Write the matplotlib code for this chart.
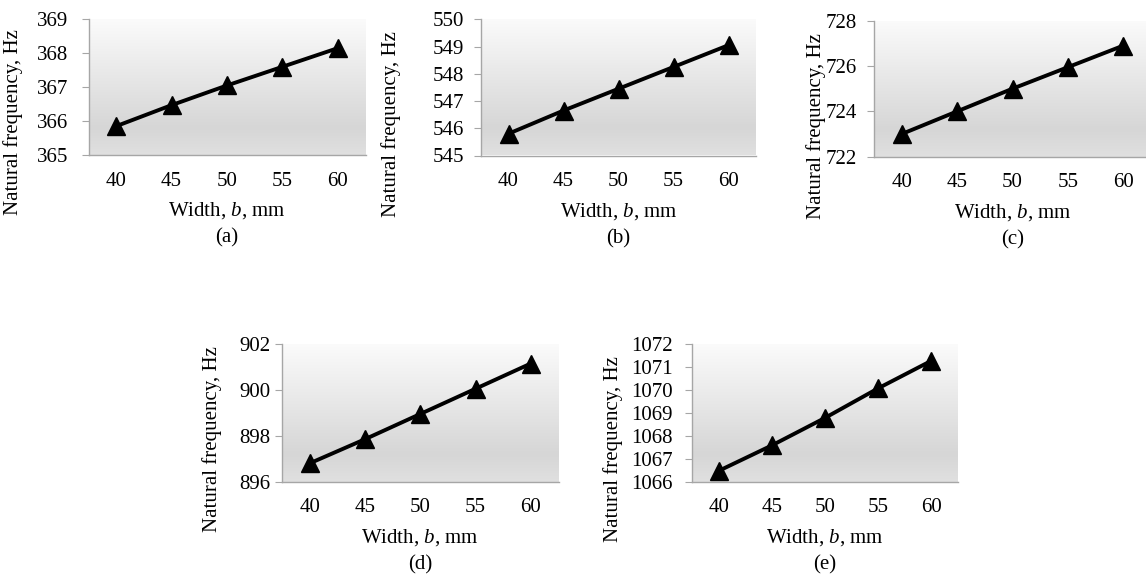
import numpy as np
import matplotlib
matplotlib.use("Agg")
import matplotlib.pyplot as plt
from matplotlib.colors import LinearSegmentedColormap

plt.rcParams['font.family'] = ['Liberation Serif', 'DejaVu Serif']
plt.rcParams['mathtext.fontset'] = 'custom'
plt.rcParams['mathtext.it'] = 'Liberation Serif:italic'
plt.rcParams['mathtext.rm'] = 'Liberation Serif'

W, H = 1146, 576

widths = [40, 45, 50, 55, 60]

freq_a = [365.85, 366.47, 367.05, 367.6, 368.15]
freq_b = [545.8, 546.65, 547.45, 548.25, 549.05]
freq_c = [723.0, 724.0, 725.0, 725.95, 726.9]
freq_d = [896.8, 897.85, 898.95, 900.05, 901.15]
freq_e = [1066.47, 1067.58, 1068.78, 1070.07, 1071.27]

ylims = [(365, 369), (545, 550), (722, 728), (896, 902), (1066, 1072)]
ysteps = [1, 1, 2, 2, 1]
captions = ['(a)', '(b)', '(c)', '(d)', '(e)']

# plot area boxes in pixels: left, top, right, bottom
boxes = [(88.5, 19.3, 365.5, 155),
         (481, 19.3, 756, 155.5),
         (874, 20.7, 1151, 156.7),
         (282, 344, 558.5, 481.7),
         (692, 344, 958, 481.7)]
ylab_x = [13, 391, 816, 212, 613]
ylab_y = [122, 124, 126, 439, 449]
ypads = [9.8, 7, 7, 3.6, 8.6]

series = [freq_a, freq_b, freq_c, freq_d, freq_e]

grad = LinearSegmentedColormap.from_list(
    'bg', [(0, '#fbfbfb'), (0.8, '#d6d6d6'), (1, '#e0e0e0')])

fig = plt.figure(figsize=(W / 100, H / 100), dpi=100)

for i in range(5):
    l, t, r, b = boxes[i]
    ax = fig.add_axes([l / W, 1 - b / H, (r - l) / W, (b - t) / H])
    ax.imshow(np.linspace(0, 1, 256).reshape(-1, 1), cmap=grad, aspect='auto',
              extent=[0, 1, 0, 1], transform=ax.transAxes, zorder=0)
    ax.plot(widths, series[i], color='black', lw=2.8, marker='^',
            markersize=13, zorder=3, clip_on=False)
    ax.set_xlim(37.5, 62.5)
    lo, hi = ylims[i]
    ax.set_ylim(lo, hi)
    ax.set_yticks(np.arange(lo, hi + 0.01, ysteps[i]))
    ax.set_xticks(widths)
    for s in ['top', 'right']:
        ax.spines[s].set_visible(False)
    for s in ['left', 'bottom']:
        ax.spines[s].set_color('#a6a6a6')
        ax.spines[s].set_linewidth(1.0)
    ax.tick_params(axis='y', direction='out', length=5, color='#a6a6a6',
                   labelsize=15, pad=ypads[i])
    ax.tick_params(axis='x', length=0, labelsize=15, pad=12)
    cx = (l + r) / 2
    fig.text(ylab_x[i] / W, 1 - ylab_y[i] / H, 'Natural frequency, Hz',
             rotation=90, ha='center', va='center', fontsize=15)
    fig.text(cx / W, 1 - (b + 56) / H, r'Width, $b$, mm',
             ha='center', va='center', fontsize=15)
    fig.text(cx / W, 1 - (b + 83) / H, captions[i],
             ha='center', va='center', fontsize=15)

fig.savefig('out.png', dpi=100)
